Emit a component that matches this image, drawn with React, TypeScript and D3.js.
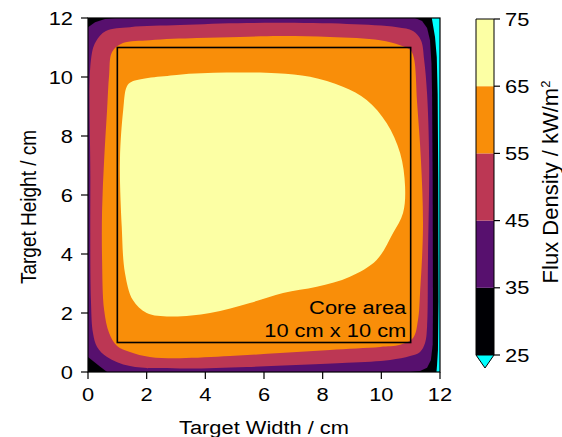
import React from "react";
import * as d3 from "d3";

// Flux density levels (kW/m²) and their fill colours (inferno-like scale)
const levels = [25, 35, 45, 55, 65, 75];
const levelColors = ["#000004", "#57106e", "#bc3754", "#f98e09", "#fcffa4"];
const underColor = "#00ffff";

const xTicks = [0, 2, 4, 6, 8, 10, 12];
const yTicks = [0, 2, 4, 6, 8, 10, 12];

// Boundaries of the filled contour regions, in cm [width, height]
// Region below 25 kW/m² along the right edge
const under25: [number, number][] = [
  [11.72, 12], [11.83, 11.36], [11.89, 10.68], [11.92, 9.42], [11.94, 6.5],
  [11.95, 2.4], [11.93, 0.75], [11.9, 0.25], [11.88, 0], [12, 0], [12, 12],
];
// Region at or above 35 kW/m²
const above35: [number, number][] = [
  [0, 11.69], [0.24, 11.86], [0.58, 11.97], [0.92, 12], [11.15, 12],
  [11.39, 11.9], [11.56, 11.66], [11.66, 11.25], [11.71, 10.44], [11.73, 9.42],
  [11.75, 6.51], [11.76, 2.1], [11.75, 0.92], [11.69, 0.41], [11.56, 0.14],
  [11.32, 0.03], [10.98, 0], [0.65, 0], [0.34, 0.24], [0, 0.51],
];
// Region at or above 45 kW/m²
const above45: [number, number][] = [
  [0.1, 10.58], [0.26, 11.19], [0.61, 11.56], [1.43, 11.69], [3.14, 11.76],
  [5.42, 11.83], [8.83, 11.8], [10.54, 11.69], [11.08, 11.56], [11.35, 11.25],
  [11.46, 10.58], [11.56, 9.42], [11.63, 7.19], [11.59, 3.8], [11.56, 1.53],
  [11.49, 0.98], [11.32, 0.68], [10.98, 0.54], [10.3, 0.41], [8.83, 0.31],
  [5.42, 0.17], [3.14, 0.12], [1.43, 0.2], [0.65, 0.51], [0.31, 0.85],
  [0.17, 1.32], [0.1, 2.44], [0.08, 6.61],
];
// Region at or above 55 kW/m²
const above55: [number, number][] = [
  [0.82, 10.85], [1.19, 11.15], [2.11, 11.25], [3.72, 11.32], [5.18, 11.36],
  [6.55, 11.39], [8.25, 11.36], [9.96, 11.25], [10.64, 11.08], [10.98, 10.92],
  [11.11, 10.64], [11.22, 9.12], [11.35, 7.19], [11.42, 4.92], [11.32, 2.68],
  [11.25, 1.76], [11.08, 1.15], [10.64, 0.92], [9.96, 0.85], [8.25, 0.75],
  [6.55, 0.64], [4.84, 0.54], [3.14, 0.47], [2.11, 0.51], [1.43, 0.68],
  [0.99, 0.88], [0.72, 1.32], [0.55, 2.1], [0.48, 3.8], [0.48, 5.49],
  [0.55, 7.19], [0.65, 8.88], [0.72, 10.07],
];
// Region at or above 65 kW/m²
const above65: [number, number][] = [
  [1.49, 9.84], [3.02, 10.07], [4.73, 10.15], [6.43, 10.13], [7.57, 10.01],
  [8.69, 9.67], [9.5, 9.22], [10.18, 8.44], [10.64, 7.42], [10.81, 6.28],
  [10.74, 5.39], [10.4, 4.71], [9.84, 3.8], [8.93, 3.23], [7.8, 2.89],
  [6.65, 2.68], [5.52, 2.34], [4.16, 2.0], [2.8, 1.88], [2.0, 2.0],
  [1.53, 2.44], [1.26, 3.36], [1.15, 4.93], [1.09, 7.19], [1.2, 8.88],
  [1.32, 9.67],
];

// Core area outline (cm)
const coreArea = { x0: 1, x1: 11, y0: 1, y1: 11 };

const FONT = "'Liberation Sans', Arial, Helvetica, sans-serif";
const FS = 19;
// glyphs are drawn slightly wide
const SX = 1.15;

type TProps = {
  x: number;
  y: number;
  anchor?: "start" | "middle" | "end";
  rotate?: boolean;
  dy?: string;
  children: React.ReactNode;
};

function Label({ x, y, anchor = "start", rotate = false, dy, children }: TProps) {
  const tr = rotate
    ? `translate(${x},${y}) rotate(-90) scale(1,${SX})`
    : `translate(${x},${y}) scale(${SX},1)`;
  return (
    <text transform={tr} textAnchor={anchor} dy={dy} fontSize={FS} fill="#000">
      {children}
    </text>
  );
}

export default function App() {
  const x = d3.scaleLinear().domain([0, 12]).range([88, 440]);
  const y = d3.scaleLinear().domain([0, 12]).range([372, 18]);
  const cb = d3.scaleLinear().domain([25, 75]).range([355, 19]);

  const linear = d3
    .line<[number, number]>()
    .x((d) => x(d[0]))
    .y((d) => y(d[1]))
    .curve(d3.curveLinearClosed);
  const smooth = d3
    .line<[number, number]>()
    .x((d) => x(d[0]))
    .y((d) => y(d[1]))
    .curve(d3.curveCatmullRomClosed.alpha(0.5));

  const cbX0 = 476;
  const cbX1 = 494;

  return (
    <svg
      width={562}
      height={437}
      style={{ position: "absolute", left: 0, top: 0, background: "#fff" }}
      fontFamily={FONT}
    >
      <defs>
        <clipPath id="plotClip">
          <rect x={x(0)} y={y(12)} width={x(12) - x(0)} height={y(0) - y(12)} />
        </clipPath>
      </defs>

      {/* filled contours */}
      <g clipPath="url(#plotClip)">
        <rect x={x(0)} y={y(12)} width={x(12) - x(0)} height={y(0) - y(12)} fill={levelColors[0]} />
        <path d={linear(under25) ?? ""} fill={underColor} />
        <path d={linear(above35) ?? ""} fill={levelColors[1]} />
        <path d={smooth(above45) ?? ""} fill={levelColors[2]} />
        <path d={smooth(above55) ?? ""} fill={levelColors[3]} />
        <path d={smooth(above65) ?? ""} fill={levelColors[4]} />
      </g>

      {/* core area */}
      <rect
        x={x(coreArea.x0)}
        y={y(coreArea.y1)}
        width={x(coreArea.x1) - x(coreArea.x0)}
        height={y(coreArea.y0) - y(coreArea.y1)}
        fill="none"
        stroke="#000"
        strokeWidth={1.6}
      />
      <Label x={x(10.85)} y={y(1.95)} anchor="end">Core area</Label>
      <Label x={x(10.85)} y={y(1.2)} anchor="end">10 cm x 10 cm</Label>

      {/* frame */}
      <rect
        x={x(0)}
        y={y(12)}
        width={x(12) - x(0)}
        height={y(0) - y(12)}
        fill="none"
        stroke="#000"
        strokeWidth={1.2}
      />

      {/* x axis */}
      {xTicks.map((t) => (
        <g key={`xt${t}`}>
          <line x1={x(t)} x2={x(t)} y1={y(0)} y2={y(0) + 7} stroke="#000" strokeWidth={1.2} />
          <Label x={x(t)} y={y(0) + 29} anchor="middle">{t}</Label>
        </g>
      ))}
      <Label x={(x(0) + x(12)) / 2} y={434} anchor="middle">Target Width / cm</Label>

      {/* y axis */}
      {yTicks.map((t) => (
        <g key={`yt${t}`}>
          <line x1={x(0) - 7} x2={x(0)} y1={y(t)} y2={y(t)} stroke="#000" strokeWidth={1.2} />
          <Label x={x(0) - 15} y={y(t)} dy="0.35em" anchor="end">{t}</Label>
        </g>
      ))}
      <Label x={36} y={207} anchor="middle" rotate>Target Height / cm</Label>

      {/* colour bar */}
      {levelColors.map((c, i) => (
        <rect
          key={`cb${i}`}
          x={cbX0}
          y={cb(levels[i + 1])}
          width={cbX1 - cbX0}
          height={cb(levels[i]) - cb(levels[i + 1])}
          fill={c}
        />
      ))}
      <path
        d={`M${cbX0},${cb(25)} L${(cbX0 + cbX1) / 2},${cb(25) + 13} L${cbX1},${cb(25)} Z`}
        fill={underColor}
        stroke="#000"
        strokeWidth={1}
      />
      <path
        d={`M${cbX0},${cb(25)} L${cbX0},${cb(75)} L${cbX1},${cb(75)} L${cbX1},${cb(25)}`}
        fill="none"
        stroke="#000"
        strokeWidth={1}
      />
      {levels.map((l) => (
        <g key={`cbt${l}`}>
          <line x1={cbX1} x2={cbX1 + 6} y1={cb(l)} y2={cb(l)} stroke="#000" strokeWidth={1.2} />
          <Label x={cbX1 + 11} y={cb(l)} dy="0.35em">{l}</Label>
        </g>
      ))}
      <text
        transform={`translate(558, 182) rotate(-90)`}
        textAnchor="middle"
        fontSize={22}
      >
        Flux Density / kW/m<tspan dy={-8} fontSize={13}>2</tspan>
      </text>
    </svg>
  );
}
